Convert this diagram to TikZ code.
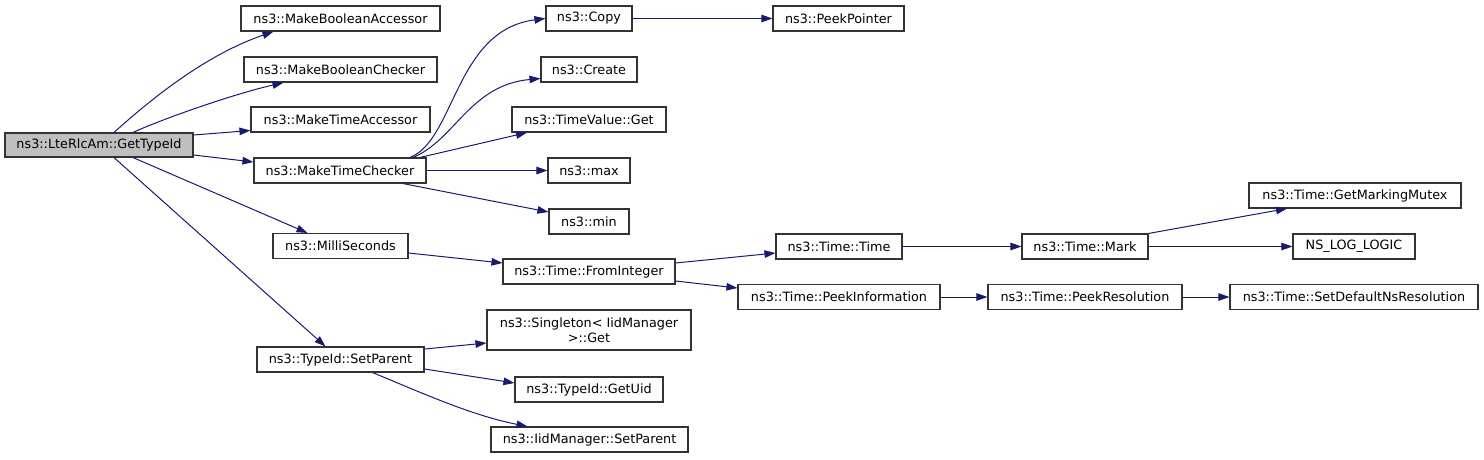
\documentclass[tikz,border=0pt]{standalone}
\usepackage{fontspec}
\setmainfont{DejaVu Sans}
\usetikzlibrary{arrows.meta}
\definecolor{edgeblue}{HTML}{191970}
\definecolor{boxgray}{HTML}{BFBFBF}
\begin{document}
\begin{tikzpicture}[x=1pt,y=-1pt,
  fn/.style={draw=black!80, line width=1.1pt, inner sep=0pt, minimum height=25pt,
    font=\fontsize{12.8}{14.5}\selectfont, text=black, align=center},
  call/.style={draw=edgeblue, line width=1pt, -{Triangle[length=11pt,width=7.5pt]}, edgeblue}]
\useasboundingbox (0,0) rectangle (1484,459);

% nodes
\node[fn, fill=boxgray, minimum width=188pt, minimum height=24pt] (gti) at (99,145) {ns3::LteRlcAm::GetTypeId};
\node[fn, minimum width=199pt] (mba) at (340.5,18.5) {ns3::MakeBooleanAccessor};
\node[fn, minimum width=193pt] (mbc) at (340.5,69.5) {ns3::MakeBooleanChecker};
\node[fn, minimum width=179pt] (mta) at (340.5,119.5) {ns3::MakeTimeAccessor};
\node[fn, minimum width=172pt] (mtc) at (340,170.5) {ns3::MakeTimeChecker};
\node[fn, minimum width=135pt] (milli) at (340.5,246) {ns3::MilliSeconds};
\node[fn, minimum width=167pt] (sp) at (340.5,359.5) {ns3::TypeId::SetParent};

\node[fn, minimum width=86pt] (copy) at (589,18.5) {ns3::Copy};
\node[fn, minimum width=96pt] (create) at (589,69.5) {ns3::Create};
\node[fn, minimum width=154pt] (tvget) at (589,119.5) {ns3::TimeValue::Get};
\node[fn, minimum width=82pt] (max) at (589,170.5) {ns3::max};
\node[fn, minimum width=80pt] (min) at (589,221.5) {ns3::min};
\node[fn, minimum width=172pt] (fromint) at (589,271.5) {ns3::Time::FromInteger};
\node[fn, minimum width=204pt, minimum height=40pt] (singleton) at (589,330) {ns3::Singleton< IidManager\\ >::Get};
\node[fn, minimum width=148pt] (getuid) at (589,389.5) {ns3::TypeId::GetUid};
\node[fn, minimum width=197pt] (iidsp) at (589.5,439.5) {ns3::IidManager::SetParent};

\node[fn, minimum width=131pt] (peekptr) at (838.5,18.5) {ns3::PeekPointer};
\node[fn, minimum width=126pt] (ttime) at (839,246.5) {ns3::Time::Time};
\node[fn, minimum width=202pt] (peekinfo) at (839,297) {ns3::Time::PeekInformation};

\node[fn, minimum width=126pt] (mark) at (1085,246.5) {ns3::Time::Mark};
\node[fn, minimum width=194pt] (peekres) at (1085,297) {ns3::Time::PeekResolution};

\node[fn, minimum width=212pt] (gmm) at (1355,195.5) {ns3::Time::GetMarkingMutex};
\node[fn, minimum width=122pt] (nslog) at (1354,246.5) {NS\_LOG\_LOGIC};
\node[fn, minimum width=248pt] (setdef) at (1354,297) {ns3::Time::SetDefaultNsResolution};

% edges from GetTypeId
\draw[call] ([xshift=15pt]gti.north) .. controls (150,100) and (205,55) .. ([xshift=-67pt]mba.south);
\draw[call] ([xshift=34pt]gti.north) .. controls (160,120) and (230,95) .. ([xshift=-57pt]mbc.south);
\draw[call] ([yshift=10pt]gti.east) -- ([yshift=-11pt]mta.west);
\draw[call] ([yshift=-10pt]gti.east) -- ([yshift=8.5pt]mtc.west);
\draw[call] ([xshift=34pt]gti.south) -- ([xshift=-33pt]milli.north);
\draw[call] ([xshift=15pt]gti.south) -- ([xshift=-15pt]sp.north);

% edges from MakeTimeChecker
\draw[call] ([xshift=70pt]mtc.north) .. controls (455,140) and (455,30) .. (copy.west);
\draw[call] ([xshift=73pt]mtc.north) .. controls (455,140) and (470,85) .. ([yshift=-9pt]create.west);
\draw[call] ([xshift=80pt]mtc.north) -- ([xshift=-62pt]tvget.south);
\draw[call] (mtc.east) -- (max.west);
\draw[call] ([xshift=63pt]mtc.south) -- ([yshift=9.5pt]min.west);

\draw[call] (copy.east) -- (peekptr.west);

% MilliSeconds chain
\draw[call] ([yshift=-7pt]milli.east) -- ([yshift=8.5pt]fromint.west);
\draw[call] ([yshift=8.5pt]fromint.east) -- ([yshift=-6.5pt]ttime.west);
\draw[call] ([yshift=-9.5pt]fromint.east) -- ([yshift=9pt]peekinfo.west);
\draw[call] (ttime.east) -- (mark.west);
\draw[call] (mark.north east) -- ([xshift=-68pt]gmm.south);
\draw[call] (mark.east) -- (nslog.west);
\draw[call] (peekinfo.east) -- (peekres.west);
\draw[call] (peekres.east) -- (setdef.west);

% SetParent
\draw[call] ([yshift=10.5pt]sp.east) -- ([yshift=-13pt]singleton.west);
\draw[call] ([yshift=-9.5pt]sp.east) -- ([yshift=6.5pt]getuid.west);
\draw[call] ([xshift=32pt]sp.south) .. controls (420,392) and (470,415) .. ([xshift=-62pt]iidsp.north);
\end{tikzpicture}
\end{document}
